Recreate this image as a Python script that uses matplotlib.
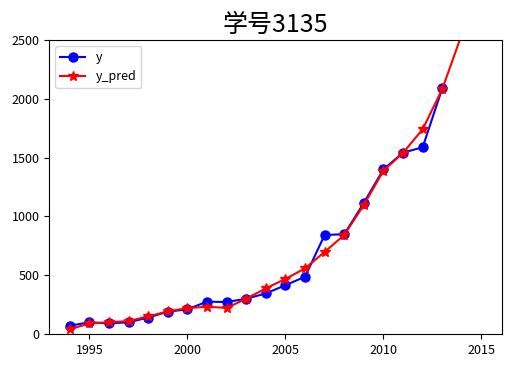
import numpy as np
import matplotlib
matplotlib.use("Agg")
import matplotlib.pyplot as plt

plt.rcParams['font.family'] = ['Noto Sans CJK SC', 'DejaVu Sans']
plt.rcParams['axes.unicode_minus'] = False

# observed values
years = [1994, 1995, 1996, 1997, 1998, 1999, 2000, 2001, 2002, 2003,
         2004, 2005, 2006, 2007, 2008, 2009, 2010, 2011, 2012, 2013]
y = [70, 100, 90, 100, 140, 190, 210, 275, 272, 300,
     345, 415, 487, 842, 848, 1115, 1400, 1542, 1587, 2089]

# fitted / predicted values
years_pred = [1994, 1995, 1996, 1997, 1998, 1999, 2000, 2001, 2002, 2003,
              2004, 2005, 2006, 2007, 2008, 2009, 2010, 2011, 2012, 2013,
              2014, 2015]
y_pred = [40, 90, 100, 110, 150, 192, 220, 232, 222, 300,
          388, 468, 558, 698, 842, 1097, 1389, 1540, 1741, 2082,
          2550, 3100]

fig = plt.figure(figsize=(5.23, 3.8), dpi=100)
ax = fig.add_axes([0.094, 0.121, 0.866, 0.774])

ax.plot(years, y, 'b-o', markersize=6.5, linewidth=1.5, label='y')
ax.plot(years_pred, y_pred, 'r-*', markersize=7, linewidth=1.5, label='y_pred')

ax.set_ylim(0, 2500)
ax.set_xticks([1995, 2000, 2005, 2010, 2015])
ax.tick_params(labelsize=9)
ax.set_title('学号3135', fontsize=18)
ax.legend(loc='upper left', fontsize=9)

fig.savefig('out.png', dpi=100)
